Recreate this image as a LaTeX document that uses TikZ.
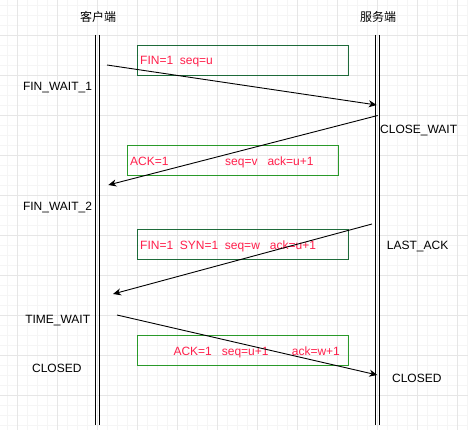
\documentclass[tikz,border=0pt]{standalone}
\usepackage{fontspec}
\setmainfont{Liberation Sans}
\newfontfamily\cjk{Noto Sans CJK SC}
\usetikzlibrary{arrows.meta}
\definecolor{gridmajor}{HTML}{E6E6E6}
\definecolor{gridminor}{HTML}{F5F5F5}
\definecolor{msgred}{HTML}{FF1F4B}
\definecolor{darkgreen}{HTML}{1E6B3A}
\definecolor{brightgreen}{HTML}{2A9A2A}
\tikzset{
  lifeline/.style={line width=1.1pt, black},
  msgbox/.style={draw=#1, line width=1pt, fill=none},
  msgtext/.style={anchor=base west, inner sep=0pt, text=msgred, font=\fontsize{12}{14}\selectfont},
  statetext/.style={anchor=base, inner sep=0pt, text=black, font=\fontsize{12}{14}\selectfont},
  statewest/.style={anchor=base west, inner sep=0pt, text=black, font=\fontsize{12}{14}\selectfont},
  headtext/.style={inner sep=0pt, text=black, font=\cjk\fontsize{12}{14}\selectfont},
  msgarrow/.style={line width=0.9pt, black, -{Stealth[length=8pt,width=7pt,inset=2.5pt]}}
}
\begin{document}
\begin{tikzpicture}[x=1pt,y=-1pt]
\useasboundingbox (0,0) rectangle (468,430);
\fill[white] (0,0) rectangle (468,430);
% grid
\foreach \i in {0,...,46} {
  \draw[gridminor, line width=0.8pt] ({7.5+10*\i},0) -- ({7.5+10*\i},430);
}
\foreach \i in {0,...,42} {
  \draw[gridminor, line width=0.8pt] (0,{5.5+10*\i}) -- (468,{5.5+10*\i});
}
\foreach \i in {0,...,11} {
  \draw[gridmajor, line width=0.8pt] ({17.5+40*\i},0) -- ({17.5+40*\i},430);
}
\foreach \i in {0,...,10} {
  \draw[gridmajor, line width=0.8pt] (0,{35.5+40*\i}) -- (468,{35.5+40*\i});
}
% headers
\node[headtext] (client) at (98,17) {客户端};
\node[headtext] (server) at (378,17) {服务端};
% lifelines
\draw[lifeline] (95.8,35) -- (95.8,425);
\draw[lifeline] (99.2,35) -- (99.2,425);
\draw[lifeline] (375.8,35) -- (375.8,425);
\draw[lifeline] (379.2,35) -- (379.2,425);
% message boxes
\node[msgbox=darkgreen, minimum width=211pt, minimum height=30pt, anchor=north west, inner sep=0pt] (box1) at (137,45) {};
\node[msgbox=brightgreen, minimum width=211pt, minimum height=30pt, anchor=north west, inner sep=0pt] (box2) at (127,145) {};
\node[msgbox=darkgreen, minimum width=211pt, minimum height=30pt, anchor=north west, inner sep=0pt] (box3) at (137,229) {};
\node[msgbox=brightgreen, minimum width=211pt, minimum height=30pt, anchor=north west, inner sep=0pt] (box4) at (137,335) {};
% message texts
\node[msgtext] (t1) at (140,65) {FIN=1~~seq=u};
\node[msgtext] (t2) at (130,165.3) {ACK=1\hspace{56.6pt}seq=v~~~ack=u+1};
\node[msgtext] (t3) at (140,249) {FIN=1~~SYN=1~~seq=w~~~ack=u+1};
\node[msgtext] (t4) at (173.3,355) {ACK=1~~~seq=u+1~~~~~~~ack=w+1};
% states
\node[statetext] (s1) at (57.5,90.7) {FIN\_WAIT\_1};
\node[statewest] (s2) at (380,133.3) {CLOSE\_WAIT};
\node[statetext] (s3) at (57.5,210.7) {FIN\_WAIT\_2};
\node[statewest] (s4) at (386.7,249) {LAST\_ACK};
\node[statetext] (s5) at (57.7,323.3) {TIME\_WAIT};
\node[statetext] (s6) at (56.8,372.7) {CLOSED};
\node[statetext] (s7) at (416.8,382.3) {CLOSED};
% arrow endpoints
\coordinate (a1s) at (107,65);
\coordinate (a1e) at (376.7,105);
\coordinate (a2s) at (377.7,115.5);
\coordinate (a2e) at (108.3,185);
\coordinate (a3s) at (372,224);
\coordinate (a3e) at (113,294);
\coordinate (a4s) at (117,315);
\coordinate (a4e) at (377.3,375);
\draw[msgarrow] (a1s) -- (a1e);
\draw[msgarrow] (a2s) -- (a2e);
\draw[msgarrow] (a3s) -- (a3e);
\draw[msgarrow] (a4s) -- (a4e);
\end{tikzpicture}
\end{document}
